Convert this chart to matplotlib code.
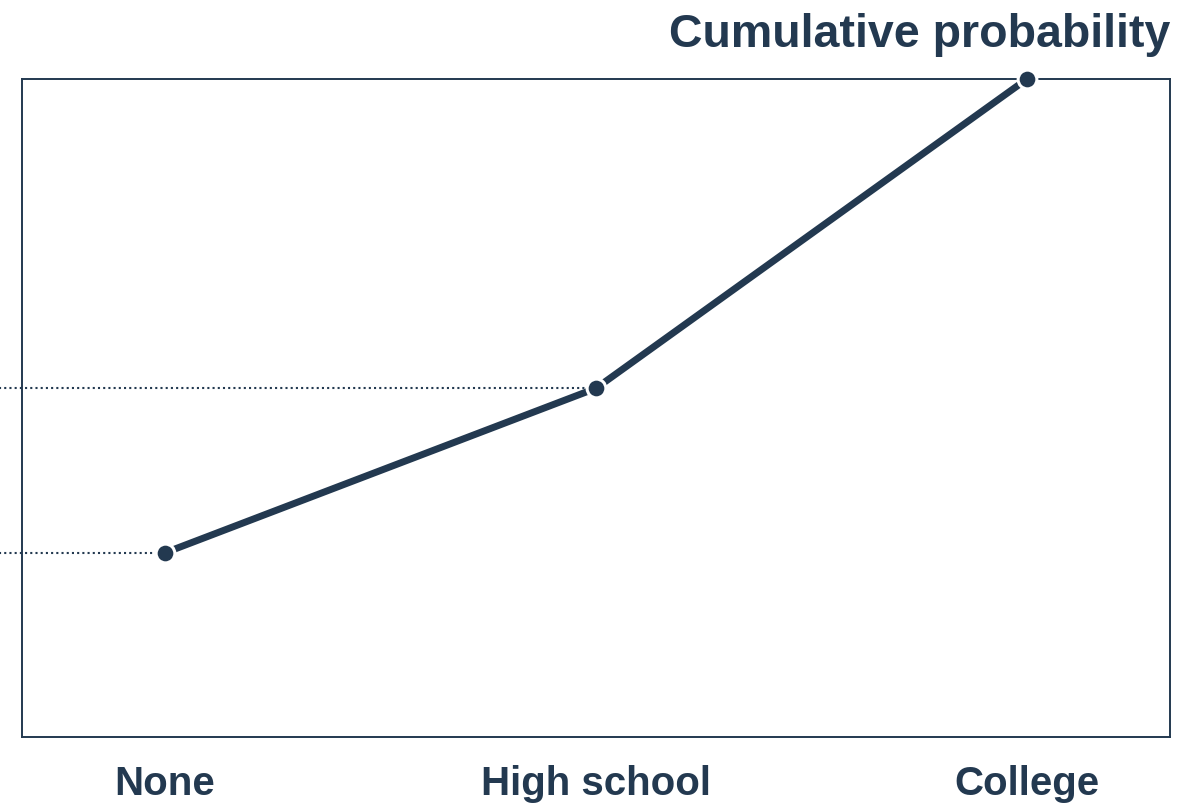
import matplotlib.pyplot as plt

plt.rcParams["font.family"] = ["Liberation Sans", "DejaVu Sans"]

# cumulative probability by education level
levels = ["None", "High school", "College"]
cum_prob = [0.28, 0.53, 1.0]

navy = "#233950"

fig = plt.figure(figsize=(11.98, 8.05), dpi=100)
ax = fig.add_axes([0.0184, 0.0845, 0.9583, 0.8174])

x = list(range(len(levels)))

# dotted guides to the left edge for the lower levels
for xi, yi in zip(x[:-1], cum_prob[:-1]):
    ax.plot([-0.5, xi], [yi, yi], color=navy, lw=1.5, ls=(0, (1, 1.5)),
            clip_on=False, zorder=1)

ax.plot(x, cum_prob, color=navy, lw=5, solid_capstyle="butt", zorder=2,
        clip_on=False)
ax.plot(x, cum_prob, "o", color=navy, ms=13.5, mec="white", mew=2.2,
        zorder=3, clip_on=False)

ax.set_xlim(-0.332, 2.332)
ax.set_ylim(0, 1)
ax.set_yticks([])
ax.set_xticks(x)
ax.set_xticklabels(levels, fontsize=29, fontweight="bold", color=navy)
ax.tick_params(axis="x", length=0, pad=20)
for s in ax.spines.values():
    s.set_color(navy)
    s.set_linewidth(1.4)

ax.text(1.0, 1.0 + 32 / 658, "Cumulative probability", transform=ax.transAxes,
        ha="right", va="baseline", fontsize=33.5, fontweight="bold", color=navy)

fig.savefig("out.png", dpi=100)
